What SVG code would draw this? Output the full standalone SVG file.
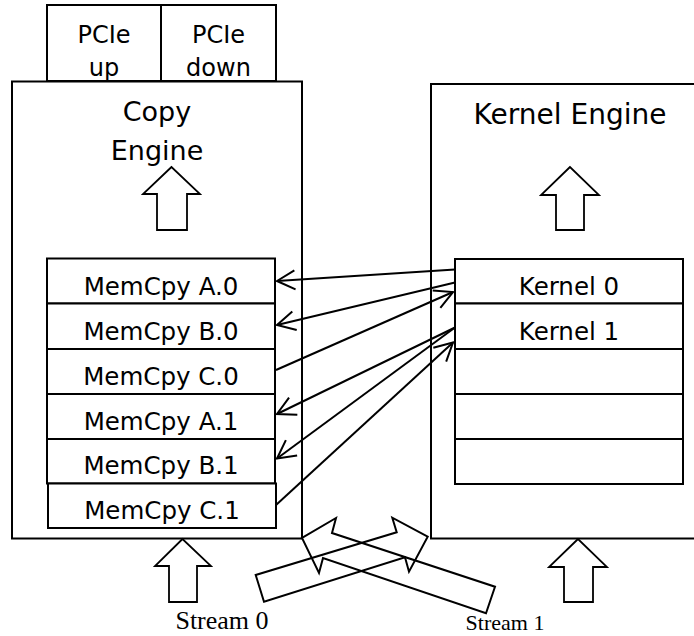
<svg xmlns="http://www.w3.org/2000/svg" width="694" height="636" viewBox="0 0 694 636">
<style>
.box{fill:#fff;stroke:#000;stroke-width:2}
.blk{fill:#fff;stroke:#000;stroke-width:1.8;stroke-linejoin:miter}
.xarr{fill:none;stroke:#000;stroke-width:2;stroke-linejoin:miter}
.t{font-family:"DejaVu Sans",Verdana,sans-serif;fill:#000;text-anchor:middle}
.s{font-family:"Liberation Serif","Times New Roman",serif;fill:#000;text-anchor:middle}
.con{fill:none;stroke:#000;stroke-width:2;marker-end:url(#vh)}
</style>
<defs>
<marker id="vh" markerUnits="userSpaceOnUse" viewBox="-21 -11 23 22" markerWidth="23" markerHeight="22" refX="0" refY="0" orient="auto">
<path d="M-18,-9.5 L0,0 L-18,9.5" fill="none" stroke="#000" stroke-width="2"/>
</marker>
</defs>
<rect width="694" height="636" fill="#fff"/>

<g id="pcie-up"><rect class="box" x="47" y="5" width="114" height="76"/><text class="t" x="104" y="43" font-size="24">PCIe</text><text class="t" x="104" y="76" font-size="24">up</text></g>
<g id="pcie-down"><rect class="box" x="161" y="5" width="115" height="76"/><text class="t" x="218.5" y="43" font-size="24">PCIe</text><text class="t" x="218.5" y="76" font-size="24">down</text></g>

<g id="copy-engine">
<rect class="box" x="12" y="81.5" width="290" height="457"/>
<text class="t" x="157" y="121" font-size="27">Copy</text>
<text class="t" x="157" y="160" font-size="27">Engine</text>
<polygon class="blk" points="171.5,167 143,194 157,194 157,230 187,230 187,194 200,194"/>
</g>

<g id="kernel-engine">
<rect class="box" x="431" y="84" width="270" height="454.5"/>
<text class="t" x="570" y="124" font-size="28">Kernel Engine</text>
<polygon class="blk" points="570,167 541,195 556,195 556,230 584,230 584,195 599,195"/>
</g>

<g id="memcpy-a0"><rect class="box" x="47" y="258.5" width="228" height="45"/><text class="t" x="161" y="295" font-size="24.5">MemCpy A.0</text></g>
<g id="memcpy-b0"><rect class="box" x="47" y="303.5" width="228" height="45.5"/><text class="t" x="161" y="340" font-size="24.5">MemCpy B.0</text></g>
<g id="memcpy-c0"><rect class="box" x="47" y="349" width="228" height="45"/><text class="t" x="161" y="385" font-size="24.5">MemCpy C.0</text></g>
<g id="memcpy-a1"><rect class="box" x="47" y="394" width="228" height="45"/><text class="t" x="161" y="430" font-size="24.5">MemCpy A.1</text></g>
<g id="memcpy-b1"><rect class="box" x="47" y="439" width="228" height="44.5"/><text class="t" x="161" y="473.5" font-size="24.5">MemCpy B.1</text></g>
<g id="memcpy-c1"><rect class="box" x="48" y="483.5" width="228" height="44.5"/><text class="t" x="162" y="518.5" font-size="24.5">MemCpy C.1</text></g>

<g id="kernel-0"><rect class="box" x="455" y="259" width="228" height="44.5"/><text class="t" x="569" y="295" font-size="24.5">Kernel 0</text></g>
<g id="kernel-1"><rect class="box" x="455" y="303.5" width="228" height="45.5"/><text class="t" x="569" y="340" font-size="24.5">Kernel 1</text></g>
<g id="kernel-2"><rect class="box" x="455" y="349" width="228" height="45"/></g>
<g id="kernel-3"><rect class="box" x="455" y="394" width="228" height="45"/></g>
<g id="kernel-4"><rect class="box" x="455" y="439" width="228" height="45"/></g>

<g id="stream-arrows">
<polygon class="blk" points="182.5,539 155,566 169,566 169,602 197,602 197,566 211,566"/>
<polygon class="blk" points="578,539 549,567 564,567 564,602 593,602 593,567 607,567"/>
<polygon class="xarr" points="264,601.7 255.7,575 396.7,532.3 392.3,517.7 427.7,536.7 409,571.7 405,557.3"/>
<polygon class="xarr" points="495,586.7 486,613.3 323,558 319,573 302,538 336,518 332,533"/>
</g>

<g id="connectors">
<line class="con" x1="455" y1="269.5" x2="277" y2="281"/>
<line class="con" x1="455" y1="282.5" x2="277" y2="325"/>
<line class="con" x1="276" y1="370" x2="453" y2="292"/>
<line class="con" x1="455" y1="327.5" x2="277" y2="414"/>
<line class="con" x1="455" y1="327.5" x2="277" y2="458.5"/>
<line class="con" x1="276" y1="505" x2="453" y2="342.5"/>
</g>

<text class="s" x="222" y="629" font-size="26">Stream 0</text>
<text class="s" x="505" y="630" font-size="22">Stream 1</text>
</svg>
